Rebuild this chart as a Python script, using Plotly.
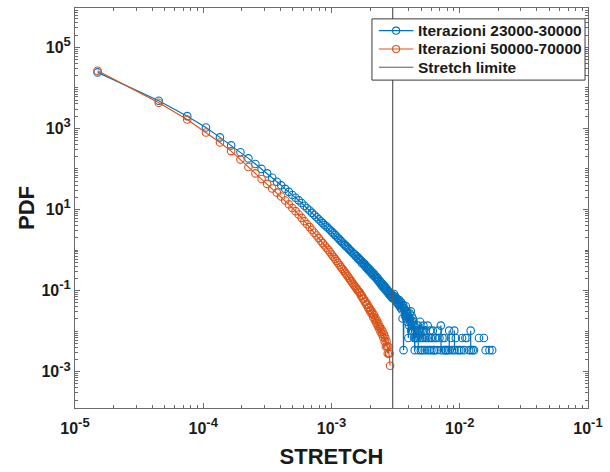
import plotly.graph_objects as go

# ---------------- data ----------------
# Iterazioni 23000-30000 (blue): bin centres and PDF values (None = empty bin -> gap)
blue_x = [1.5e-5, 4.5e-5, 7.5e-5, 10.5e-5, 13.5e-5, 16.5e-5, 19.5e-5, 22.5e-5, 25.5e-5, 28.5e-5,
          31.5e-5, 34.5e-5, 37.5e-5, 40.5e-5, 43.5e-5, 46.5e-5, 49.5e-5, 52.5e-5, 55.5e-5, 58.5e-5,
          61.5e-5, 64.5e-5, 67.5e-5, 70.5e-5, 73.5e-5, 76.5e-5, 79.5e-5, 82.5e-5, 85.5e-5, 88.5e-5,
          91.5e-5, 94.5e-5, 97.5e-5, 100.5e-5, 103.5e-5, 106.5e-5, 109.5e-5, 112.5e-5, 115.5e-5, 118.5e-5,
          121.5e-5, 124.5e-5, 127.5e-5, 130.5e-5, 133.5e-5, 136.5e-5, 139.5e-5, 142.5e-5, 145.5e-5, 148.5e-5,
          151.5e-5, 154.5e-5, 157.5e-5, 160.5e-5, 163.5e-5, 166.5e-5, 169.5e-5, 172.5e-5, 175.5e-5, 178.5e-5,
          181.5e-5, 184.5e-5, 187.5e-5, 190.5e-5, 193.5e-5, 196.5e-5, 199.5e-5, 202.5e-5, 205.5e-5, 208.5e-5,
          211.5e-5, 214.5e-5, 217.5e-5, 220.5e-5, 223.5e-5, 226.5e-5, 229.5e-5, 232.5e-5, 235.5e-5, 238.5e-5,
          241.5e-5, 244.5e-5, 247.5e-5, 250.5e-5, 253.5e-5, 256.5e-5, 259.5e-5, 262.5e-5, 265.5e-5, 268.5e-5,
          271.5e-5, 274.5e-5, 277.5e-5, 280.5e-5, 283.5e-5, 286.5e-5, 289.5e-5, 292.5e-5, 295.5e-5, 298.5e-5,
          301.5e-5, 304.5e-5, 307.5e-5, 310.5e-5, 313.5e-5, 316.5e-5, 319.5e-5, 322.5e-5, 325.5e-5, 328.5e-5,
          331.5e-5, 334.5e-5, 337.5e-5, 340.5e-5, 343.5e-5, 346.5e-5, 349.5e-5, 352.5e-5, 355.5e-5, 358.5e-5,
          361.5e-5, 364.5e-5, 367.5e-5, 370.5e-5, 373.5e-5, 376.5e-5, 379.5e-5, 382.5e-5, 385.5e-5, 388.5e-5,
          391.5e-5, 394.5e-5, 397.5e-5, 400.5e-5, 403.5e-5, 406.5e-5, 409.5e-5, 412.5e-5, 415.5e-5, 418.5e-5,
          421.5e-5, 424.5e-5, 427.5e-5, 430.5e-5, 433.5e-5, 436.5e-5, 439.5e-5, 442.5e-5, 445.5e-5, 448.5e-5,
          451.5e-5, None, 457.5e-5, 460.5e-5, None, 466.5e-5, None, 472.5e-5, 475.5e-5, None,
          481.5e-5, None, 487.5e-5, 490.5e-5, None, 496.5e-5, None, 502.5e-5, 505.5e-5, None,
          511.5e-5, None, 517.5e-5, 520.5e-5, None, 526.5e-5, None, 532.5e-5, None, 538.5e-5,
          None, 544.5e-5, None, 550.5e-5, None, 556.5e-5, None, 562.5e-5, None, 571.5e-5,
          None, 580.5e-5, None, 586.5e-5, None, 595.5e-5, None, 601.5e-5, None, 610.5e-5,
          None, 616.5e-5, None, 625.5e-5, None, 634.5e-5, None, 643.5e-5, None, 655.5e-5,
          None, 664.5e-5, None, 676.5e-5, None, 694.5e-5, None, 712.5e-5, 715.5e-5, None,
          733.5e-5, None, 748.5e-5, None, 760.5e-5, None, 769.5e-5, None, 781.5e-5, None,
          805.5e-5, None, 826.5e-5, 829.5e-5, None, 853.5e-5, None, 871.5e-5, None, 907.5e-5,
          910.5e-5, None, 931.5e-5, None, 955.5e-5, None, 991.5e-5, None, 1024.5e-5, None,
          1042.5e-5, None, 1081.5e-5, None, 1105.5e-5, None, 1135.5e-5, None, 1183.5e-5, None,
          1216.5e-5, 1219.5e-5, None, 1261.5e-5, None, 1291.5e-5, None, 1411.5e-5, None, 1543.5e-5,
          None, 1591.5e-5, None, 1705.5e-5, None, 1789.5e-5]
blue_y = [24000, 4800, 2000, 1050, 600, 380, 257, 182, 132, 100,
          77.6, 60.5, 48.4, 39.4, 32.3, 27.2, 22.8, 19.5, 16.8, 14.4,
          12.4, 10.7, 9.4, 8.24, 7.28, 6.43, 5.75, 5.12, 4.61, 4.16,
          3.78, 3.43, 3.11, 2.84, 2.58, 2.36, 2.16, 1.98, 1.81, 1.67,
          1.54, 1.43, 1.32, 1.23, 1.15, 1.07, 0.99, 0.93, 0.87, 0.81,
          0.79, 0.70, 0.70, 0.61, 0.63, 0.55, 0.56, 0.47, 0.50, 0.44,
          0.45, 0.38, 0.40, 0.34, 0.36, 0.31, 0.33, 0.28, 0.29, 0.25,
          0.27, 0.23, 0.245, 0.21, 0.22, 0.19, 0.205, 0.17, 0.18, 0.155,
          0.165, 0.14, 0.15, 0.125, 0.14, 0.118, 0.128, 0.105, 0.115, 0.098,
          0.108, 0.090, 0.097, 0.082, 0.090, 0.076, 0.084, 0.070, 0.078, 0.065,
          0.0752, 0.0684, 0.0821, 0.0616, 0.0718, 0.0581, 0.0650, 0.0513, 0.0616, 0.0479,
          0.0547, 0.0445, 0.0581, 0.0410, 0.0479, 0.0376, 0.0513, 0.0342, 0.0410, 0.0205,
          0.0445, 0.0034, 0.0376, 0.0342, 0.0239, 0.0308, 0.0410, 0.0205, 0.0274, 0.0308,
          0.0171, 0.0239, 0.0068, 0.0205, 0.0137, 0.0274, 0.0205, 0.0171, 0.0308, 0.0103,
          0.0239, 0.0171, 0.0137, 0.0205, 0.0103, 0.0171, 0.0068, 0.0137, 0.0034, 0.0103,
          0.0068, None, 0.0068, 0.0103, None, 0.0068, None, 0.0137, 0.0034, None,
          0.0103, None, 0.0068, 0.0171, None, 0.0034, None, 0.0103, 0.0068, None,
          0.0034, None, 0.0068, 0.0137, None, 0.0103, None, 0.0034, None, 0.0068,
          None, 0.0103, None, 0.0068, None, 0.0034, None, 0.0137, None, 0.0068,
          None, 0.0034, None, 0.0103, None, 0.0068, None, 0.0034, None, 0.0068,
          None, 0.0103, None, 0.0034, None, 0.0034, None, 0.0068, None, 0.0068,
          None, 0.0034, None, 0.0103, None, 0.0068, None, 0.0137, 0.0034, None,
          0.0068, None, 0.0034, None, 0.0068, None, 0.0034, None, 0.0034, None,
          0.0034, None, 0.0103, 0.0034, None, 0.0068, None, 0.0034, None, 0.0103,
          0.0034, None, 0.0068, None, 0.0034, None, 0.0034, None, 0.0034, None,
          0.0068, None, 0.0034, None, 0.0068, None, 0.0068, None, 0.0034, None,
          0.0103, 0.0034, None, 0.0034, None, 0.0034, None, 0.0068, None, 0.0068,
          None, 0.0034, None, 0.0034, None, 0.0034]

# Iterazioni 50000-70000 (orange)
orange_x = [1.5e-5, 4.5e-5, 7.5e-5, 10.5e-5, 13.5e-5, 16.5e-5, 19.5e-5, 22.5e-5, 25.5e-5, 28.5e-5,
            31.5e-5, 34.5e-5, 37.5e-5, 40.5e-5, 43.5e-5, 46.5e-5, 49.5e-5, 52.5e-5, 55.5e-5, 58.5e-5,
            61.5e-5, 64.5e-5, 67.5e-5, 70.5e-5, 73.5e-5, 76.5e-5, 79.5e-5, 82.5e-5, 85.5e-5, 88.5e-5,
            91.5e-5, 94.5e-5, 97.5e-5, 100.5e-5, 103.5e-5, 106.5e-5, 109.5e-5, 112.5e-5, 115.5e-5, 118.5e-5,
            121.5e-5, 124.5e-5, 127.5e-5, 130.5e-5, 133.5e-5, 136.5e-5, 139.5e-5, 142.5e-5, 145.5e-5, 148.5e-5,
            151.5e-5, 154.5e-5, 157.5e-5, 160.5e-5, 163.5e-5, 166.5e-5, 169.5e-5, 172.5e-5, 175.5e-5, 178.5e-5,
            181.5e-5, 184.5e-5, 187.5e-5, 190.5e-5, 193.5e-5, 196.5e-5, 199.5e-5, 202.5e-5, 205.5e-5, 208.5e-5,
            211.5e-5, 214.5e-5, 217.5e-5, 220.5e-5, 223.5e-5, 226.5e-5, 229.5e-5, 232.5e-5, 235.5e-5, 238.5e-5,
            241.5e-5, 244.5e-5, 247.5e-5, 250.5e-5, 253.5e-5, 256.5e-5, 259.5e-5, 262.5e-5, 265.5e-5, 268.5e-5,
            271.5e-5, 274.5e-5, 277.5e-5, 280.5e-5, 283.5e-5, 286.5e-5]
orange_y = [26300, 4270, 1660, 794, 447, 275, 170, 112, 77.6, 56.2,
            42.7, 33.0, 26.1, 20.9, 16.6, 13.4, 10.9, 9.10, 7.55, 6.21,
            5.15, 4.32, 3.68, 3.13, 2.67, 2.28, 1.97, 1.69, 1.48, 1.29,
            1.14, 1.00, 0.88, 0.774, 0.682, 0.607, 0.540, 0.479, 0.426, 0.382,
            0.343, 0.311, 0.278, 0.252, 0.230, 0.208, 0.187, 0.171, 0.156, 0.142,
            0.131, 0.119, 0.110, 0.101, 0.0933, 0.089, 0.076, 0.075, 0.064, 0.063,
            0.053, 0.054, 0.045, 0.046, 0.037, 0.039, 0.031, 0.033, 0.027, 0.029,
            0.022, 0.025, 0.019, 0.021, 0.016, 0.018, 0.0135, 0.0152, 0.0115, 0.0128,
            0.0095, 0.0112, 0.0084, 0.0098, 0.0070, 0.0084, 0.0056, 0.0070, 0.0042, 0.0056,
            0.0042, 0.0028, 0.0042, 0.0028, 0.0028, 0.0014]

# Stretch limite
limit_x = [3.0e-3, 3.0e-3]
limit_y = [1e-5, 1e7]

names = ["Iterazioni 23000-30000", "Iterazioni 50000-70000", "Stretch limite"]

x_tickvals = [1e-5, 1e-4, 1e-3, 1e-2, 1e-1]
x_exps = ["-5", "-4", "-3", "-2", "-1"]
y_tickvals = [1e-3, 1e-1, 1e1, 1e3, 1e5]
y_exps = ["-3", "-1", "1", "3", "5"]

x_minor = [m * 10.0 ** d for d in range(-5, -1) for m in range(2, 10)]
y_minor = [m * 10.0 ** d for d in range(-4, 6) for m in range(1, 10)]

# ---------------- figure ----------------
BLUE = "#0072BD"
ORANGE = "#D95319"
GRAY = "#5a5a5a"
FONT = "Liberation Sans, Arial, Helvetica, sans-serif"
AXC = "#6b6b6b"
TXT = "#1a1a1a"


def sup_label(e):
    return "10<sup><span style='font-size:13px'>" + e + "</span></sup>"


fig = go.Figure()
fig.add_trace(go.Scatter(x=blue_x, y=blue_y, name=names[0], mode="lines+markers", showlegend=False,
                         line=dict(color=BLUE, width=1.2),
                         marker=dict(symbol="circle-open", size=7.5, color=BLUE, line=dict(width=1.1))))
fig.add_trace(go.Scatter(x=orange_x, y=orange_y, name=names[1], mode="lines+markers", showlegend=False,
                         line=dict(color=ORANGE, width=1.2),
                         marker=dict(symbol="circle-open", size=7.5, color=ORANGE, line=dict(width=1.1))))
fig.add_trace(go.Scatter(x=limit_x, y=limit_y, name=names[2], mode="lines", showlegend=False,
                         line=dict(color=GRAY, width=1.2)))

axis_common = dict(type="log", showline=True, linecolor=AXC, linewidth=1, mirror="ticks",
                   ticks="inside", ticklen=5, tickcolor=AXC, tickwidth=1,
                   showgrid=False, zeroline=False,
                   tickfont=dict(family=FONT, size=16, color=TXT, weight="bold"))

# ---- manual legend (MATLAB-style box) in paper coordinates ----
L, R, T, B = 75, 595, 7, 412          # plot area in pixels
W, H = R - L, B - T


def px(xp):
    return (xp - L) / W


def py(yp):
    return (B - yp) / H


shapes = [dict(type="rect", xref="paper", yref="paper", x0=px(376), x1=px(592), y0=py(80), y1=py(18),
               line=dict(color="#3a3a3a", width=1), fillcolor="white", layer="above")]
annotations = []
row_y = [30, 48.5, 67]
colors = [BLUE, ORANGE, GRAY]
for i, (name, c, yy) in enumerate(zip(names, colors, row_y)):
    shapes.append(dict(type="line", xref="paper", yref="paper", x0=px(383), x1=px(418), y0=py(yy), y1=py(yy),
                       line=dict(color=c, width=1.2), layer="above"))
    if i < 2:
        r = 3.6
        shapes.append(dict(type="circle", xref="paper", yref="paper", x0=px(400.5 - r), x1=px(400.5 + r),
                           y0=py(yy + r), y1=py(yy - r), line=dict(color=c, width=1.1),
                           fillcolor="rgba(0,0,0,0)", layer="above"))
    annotations.append(dict(text=name, xref="paper", yref="paper", x=px(421), y=py(yy),
                            xanchor="left", yanchor="middle", showarrow=False,
                            font=dict(family=FONT, size=15.5, color=TXT, weight="bold")))

fig.update_layout(
    width=610, height=472,
    margin=dict(l=L, r=610 - R, t=T, b=472 - B),
    paper_bgcolor="white", plot_bgcolor="white",
    showlegend=False,
    shapes=shapes, annotations=annotations,
    xaxis=dict(**axis_common, range=[-5, -1], tickvals=x_tickvals, ticktext=[sup_label(e) for e in x_exps],
               ticklabelstandoff=6,
               minor=dict(tickvals=x_minor, ticks="inside", ticklen=3, tickcolor=AXC, showgrid=False),
               title=dict(text="STRETCH", font=dict(family=FONT, size=22, color=TXT, weight="bold"),
                          standoff=12)),
    yaxis=dict(**axis_common, range=[-3.895, 5.968], tickvals=y_tickvals, ticktext=[sup_label(e) for e in y_exps],
               minor=dict(tickvals=y_minor, ticks="inside", ticklen=3, tickcolor=AXC, showgrid=False),
               title=dict(text="PDF", font=dict(family=FONT, size=22, color=TXT, weight="bold"),
                          standoff=0)),
)

fig.write_html("out.html")
